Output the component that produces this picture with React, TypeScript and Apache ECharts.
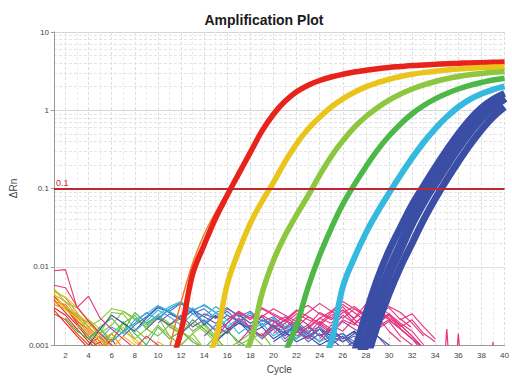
import React, { useEffect, useRef } from "react";
import * as echarts from "echarts";

// ---- data ----
const xTickLabels = [2, 4, 6, 8, 10, 12, 14, 16, 18, 20, 22, 24, 26, 28, 30, 32, 34, 36, 38, 40];
const yTickLabels = [0.001, 0.01, 0.1, 1, 10];
const threshold = 0.1;

// amplification curves: values from a start cycle
const redStart = 11;
const redCurve = [0.0005, 0.0015, 0.008, 0.019, 0.042, 0.082, 0.155, 0.29, 0.54, 0.89, 1.3, 1.72, 2.09, 2.4, 2.66, 2.88, 3.08, 3.24, 3.39, 3.52, 3.62, 3.72, 3.79, 3.86, 3.93, 3.98, 4.03, 4.06, 4.1, 4.13];
const orangeStart = 11;
const orangeCurve = [0.0009, 0.0035, 0.011, 0.026, 0.05, 0.09];
const yellowStart = 14;
const yellowCurve = [0.0006, 0.0012, 0.006, 0.016, 0.036, 0.068, 0.12, 0.219, 0.372, 0.575, 0.813, 1.1, 1.4, 1.7, 1.99, 2.25, 2.49, 2.7, 2.88, 3.03, 3.16, 3.27, 3.37, 3.44, 3.51, 3.56, 3.61];
const limeStart = 17;
const limeCurve = [0.0006, 0.0011, 0.0045, 0.012, 0.025, 0.046, 0.081, 0.148, 0.257, 0.407, 0.603, 0.832, 1.08, 1.35, 1.61, 1.87, 2.11, 2.33, 2.53, 2.7, 2.84, 2.95, 3.05, 3.13];
const greenStart = 21;
const greenCurve = [0.0008, 0.0018, 0.0055, 0.014, 0.031, 0.063, 0.112, 0.19, 0.309, 0.468, 0.668, 0.902, 1.15, 1.4, 1.64, 1.87, 2.08, 2.26, 2.43, 2.57];
const cyanStart = 24;
const cyanCurve = [0.0005, 0.0011, 0.0055, 0.013, 0.027, 0.05, 0.087, 0.148, 0.245, 0.389, 0.582, 0.822, 1.1, 1.38, 1.62, 1.84, 2.02];
const blueEarlyStart = 27;
const blueEarly = [0.0008, 0.0025, 0.007, 0.016, 0.032, 0.062, 0.108, 0.186, 0.31, 0.5, 0.76, 1.07, 1.37, 1.64];
const blueMidStart = 27;
const blueMid = [0.0005, 0.0011, 0.0035, 0.0085, 0.018, 0.038, 0.071, 0.123, 0.209, 0.347, 0.55, 0.822, 1.135, 1.46];
const blueLateStart = 28;
const blueLate = [0.0006, 0.0018, 0.0045, 0.01, 0.02, 0.04, 0.074, 0.13, 0.22, 0.36, 0.56, 0.82, 1.1];

// baseline noise traces (values from a start cycle)
const nR1 = [0.0042, 0.003, 0.0019, 0.0013, 0.0009, 0.0006];
const nR2 = [0.003, 0.0024, 0.0016, 0.0011, 0.0008, 0.0012, 0.0007];
const nR3 = [0.0038, 0.0026, 0.0018, 0.0012, 0.0009, 0.0007];
const nR4 = [0.0025, 0.0021, 0.0014, 0.001, 0.0013, 0.0008];
const nR5 = [0.0028, 0.0019, 0.0013, 0.0009, 0.0011, 0.0007];
const nO1 = [0.005, 0.004, 0.0026, 0.0017, 0.0012, 0.0008];
const nO2 = [0.0036, 0.0033, 0.0021, 0.0014, 0.001, 0.0007];
const nO3 = [0.0044, 0.0036, 0.0024, 0.0019, 0.0013, 0.0009, 0.0007];
const nO4 = [0.0033, 0.0029, 0.0023, 0.0015, 0.0011, 0.0014, 0.0009];
const nO5 = [0.0041, 0.0031, 0.002, 0.0016, 0.0012, 0.001, 0.0008];
const nY1 = [0.0046, 0.0028, 0.0022, 0.0016, 0.0012, 0.0009, 0.0013, 0.001, 0.0008, 0.0011, 0.0009, 0.0007];
const nY2 = [0.0048, 0.0041, 0.003, 0.0021, 0.0016, 0.0012, 0.0017, 0.0011, 0.0009];
const nY3 = [0.0035, 0.0031, 0.0025, 0.0019, 0.0014, 0.0011, 0.0015, 0.0012, 0.0009];
const nYG1 = [0.0052, 0.0035, 0.003, 0.002, 0.0014, 0.0026, 0.0025, 0.0016, 0.0012, 0.0018, 0.0013, 0.001, 0.0014, 0.0009];
const nYG2 = [0.003, 0.0024, 0.0017, 0.0021, 0.0029, 0.0027, 0.0022, 0.0018, 0.0024, 0.0019, 0.0015, 0.0012, 0.0009];
const nG1 = [0.0022, 0.0015, 0.0012, 0.0016, 0.0011, 0.002, 0.0014, 0.001, 0.0017, 0.0012, 0.0015, 0.0011, 0.0009, 0.0013, 0.0008];
const nG2 = [0.0018, 0.0013, 0.0009, 0.0014, 0.0019, 0.0012, 0.0016, 0.0023, 0.0013, 0.001, 0.0014, 0.0018, 0.0012, 0.0009, 0.0011, 0.0014, 0.001, 0.0008];
const nG3 = [0.0012, 0.0017, 0.0022, 0.0015, 0.0026, 0.0019, 0.0024, 0.0017, 0.0014, 0.0021, 0.0016, 0.0012, 0.0015, 0.0011, 0.0009];
const nG4 = [0.0014, 0.0011, 0.0019, 0.0024, 0.0016, 0.0013, 0.0018, 0.0022, 0.0015, 0.0019, 0.0013, 0.0016, 0.001, 0.0012, 0.0014, 0.0009];
const nG5 = [0.0016, 0.0021, 0.0014, 0.0018, 0.0027, 0.0021, 0.0017, 0.0023, 0.0018, 0.0014, 0.0019, 0.0015, 0.0011, 0.0008];
const nB1 = [0.001, 0.0016, 0.0024, 0.0019, 0.0015, 0.0022, 0.003, 0.0026, 0.0021, 0.0028, 0.0018, 0.0024, 0.0016, 0.002, 0.0014, 0.0017, 0.0012, 0.0015, 0.0011, 0.0013, 0.001, 0.0012, 0.0009, 0.0011, 0.0008];
const nB2 = [0.0013, 0.0018, 0.0014, 0.0021, 0.0016, 0.0012, 0.0017, 0.0013, 0.0019, 0.0014, 0.0011, 0.0016, 0.0012, 0.0015, 0.001, 0.0013, 0.0009];
const nB3 = [0.0013, 0.0018, 0.0023, 0.0031, 0.0027, 0.0034, 0.0025, 0.0029, 0.0022, 0.0027, 0.002, 0.0024, 0.0017, 0.0021, 0.0015, 0.0018, 0.0013, 0.0016, 0.0012, 0.0014, 0.001, 0.0012, 0.0009];
const nB4 = [0.0011, 0.0014, 0.0012, 0.0017, 0.0013, 0.0016, 0.0012, 0.0015, 0.0011, 0.0013, 0.001, 0.0008];
const nB5 = [0.0022, 0.0029, 0.0035, 0.0028, 0.0032, 0.0026, 0.003, 0.0023, 0.0027, 0.002, 0.0023, 0.0017, 0.002, 0.0015, 0.0017, 0.0013, 0.0014, 0.0011, 0.0012, 0.0009];
const nB6 = [0.0011, 0.0015, 0.0019, 0.0016, 0.0013, 0.0018, 0.0014, 0.0017, 0.0012, 0.0016, 0.0013, 0.0011, 0.0014, 0.0012, 0.0009];
const nC1 = [0.0012, 0.0017, 0.0014, 0.0021, 0.0025, 0.0032, 0.0027, 0.0022, 0.003, 0.0019, 0.0026, 0.0017, 0.0022, 0.0015, 0.0019, 0.0013, 0.0017, 0.0012, 0.0015, 0.0011, 0.0013];
const nC2 = [0.0015, 0.002, 0.0028, 0.0023, 0.0018, 0.0025, 0.002, 0.0016, 0.0021, 0.0014, 0.0018, 0.0012, 0.0016, 0.0011];
const nC3 = [0.0011, 0.0015, 0.0019, 0.0026, 0.0021, 0.0029, 0.0035, 0.0028, 0.0023, 0.0031, 0.0024, 0.002, 0.0026, 0.0018, 0.0022, 0.0016, 0.0019, 0.0013, 0.0016, 0.0011];
const nC4 = [0.0018, 0.0024, 0.0031, 0.0036, 0.0027, 0.0033, 0.0026, 0.0021, 0.0025, 0.0019, 0.0023, 0.0016, 0.0019, 0.0013, 0.0015, 0.0011];
const nP1 = [0.0016, 0.0022, 0.0018, 0.0024, 0.0017, 0.0021, 0.0015, 0.0019, 0.0026, 0.0016, 0.0013, 0.0018, 0.0012, 0.0016, 0.0011, 0.0014, 0.001, 0.0013, 0.0009];
const nP2 = [0.0019, 0.0025, 0.0021, 0.0028, 0.0023, 0.0019, 0.0024, 0.002, 0.0016, 0.0021, 0.0017, 0.0014, 0.0018, 0.0013, 0.0016, 0.0011, 0.0013, 0.001, 0.0012, 0.0009];
const nP3 = [0.0014, 0.0019, 0.0025, 0.0022, 0.0029, 0.0024, 0.0019, 0.0023, 0.0017, 0.0021, 0.0015, 0.0018, 0.0013, 0.0016, 0.0011, 0.0013, 0.0009];
const nPk1 = [0.0012, 0.0019, 0.0026, 0.0021, 0.0029, 0.0024, 0.002, 0.0027, 0.0032, 0.0025, 0.0021, 0.0028, 0.0019, 0.0024, 0.0016, 0.002, 0.0013, 0.001];
const nPk2 = [0.0015, 0.0022, 0.0017, 0.0024, 0.002, 0.0016, 0.0023, 0.0018, 0.0026, 0.0022, 0.0031, 0.0021, 0.0017, 0.0023, 0.0015, 0.0011];
const nPk3 = [0.0011, 0.0016, 0.0013, 0.0019, 0.0023, 0.0018, 0.0014, 0.002, 0.0016, 0.0024, 0.0019, 0.0015, 0.0021, 0.0025, 0.0018, 0.0013, 0.0009];
const nPk4 = [0.0089, 0.0092, 0.003, 0.0042, 0.0022, 0.0016, 0.0012, 0.0009, 0.0013, 0.001, 0.0008];
const nPk5 = [0.0058, 0.0054, 0.0031, 0.002, 0.0014, 0.001, 0.0007];
const nPk6 = [0.0012, 0.0018, 0.0015, 0.0022, 0.0028, 0.0019, 0.0024, 0.0016, 0.0012, 0.0008];
const nPk7 = [0.0017, 0.0023, 0.0029, 0.0024, 0.002, 0.0026, 0.0034, 0.0027, 0.0022, 0.0029, 0.0023, 0.0019, 0.0025, 0.0017, 0.0021, 0.0014, 0.0011];
const nPk8 = [0.0014, 0.0019, 0.0025, 0.0021, 0.0018, 0.0024, 0.0028, 0.0022, 0.0033, 0.0026, 0.003, 0.0021, 0.0025, 0.0017, 0.0012];
const nPk9 = [0.0013, 0.0017, 0.0022, 0.0027, 0.0036, 0.0029, 0.0024, 0.0031, 0.0025, 0.0019, 0.0015, 0.001];
const nPk10 = [0.0011, 0.0015, 0.0012, 0.0018, 0.0014, 0.002, 0.0016, 0.0013, 0.0017, 0.0021, 0.0016, 0.0012, 0.0009];
const nPk11 = [0.0021, 0.0027, 0.0022, 0.003, 0.0025, 0.0021, 0.0028, 0.0023, 0.0019, 0.0026, 0.0033, 0.0026, 0.002, 0.0027, 0.0021, 0.0016, 0.0012];
const nPk12 = [0.0012, 0.0016, 0.0021, 0.0017, 0.0023, 0.0019, 0.0015, 0.0021, 0.0018, 0.0027, 0.0038, 0.0031, 0.0026, 0.0019, 0.0013];
const nPk13 = [0.0016, 0.0022, 0.0019, 0.0026, 0.0031, 0.0024, 0.0029, 0.0022, 0.0018, 0.0013, 0.0009];
const pinkSegment = [[30.9, 0.0022], [31.9, 0.0017]];
const spike35 = [[34.8, 0.0006], [35, 0.0016], [35.2, 0.0006]];
const spike36 = [[35.8, 0.0006], [36, 0.0014], [36.2, 0.0006]];
const spike39 = [[38.9, 0.0006], [39, 0.0011], [39.1, 0.0006]];

const RED = "#e8231c";
const ORANGE = "#f27b22";
const YELLOW = "#e9c41a";
const LIME = "#8dc63f";
const GREEN = "#4db848";
const CYAN = "#35b9df";
const BLUE = "#3b4ea5";
const PURPLE = "#6d5bb3";
const PINK = "#e8327c";

function toPoints(start: number, vals: number[]) {
  return vals.map((v, i) => [start + i, v]);
}

export default function App() {
  const ref = useRef<HTMLDivElement>(null);
  useEffect(() => {
    if (!ref.current) return;
    document.body.style.margin = "0";
    const chart = echarts.init(ref.current, undefined, { renderer: "svg" });

    const noise: [number, number[], string][] = [
      [1, nR1, RED], [1, nR2, RED], [1, nR3, RED], [1, nR4, "#f04a1e"], [1, nR5, RED],
      [1, nO1, ORANGE], [1, nO2, ORANGE], [1, nO3, "#f59a25"], [1, nO4, ORANGE], [1, nO5, "#f0651e"],
      [1, nY1, YELLOW], [1, nY2, YELLOW], [1, nY3, "#f2b41c"],
      [1, nYG1, LIME], [2, nYG2, LIME], [2, nG1, GREEN], [3, nG2, LIME], [4, nG3, GREEN], [5, nG4, "#6cc04a"], [3, nG5, LIME],
      [4, nB1, BLUE], [14, nB2, PURPLE], [7, nB3, "#4a6cc0"], [20, nB4, BLUE], [10, nB5, "#4f79c8"], [15, nB6, BLUE],
      [5, nC1, CYAN], [8, nC2, CYAN], [6, nC3, "#2aa7d8"], [9, nC4, CYAN],
      [9, nP1, PURPLE], [10, nP2, "#5a64c0"], [12, nP3, PURPLE],
      [15, nPk1, PINK], [16, nPk2, PINK], [17, nPk3, "#d9368f"], [1, nPk4, PINK], [1, nPk5, "#ee3b5a"],
      [24, nPk6, PINK], [18, nPk7, "#e0358a"], [20, nPk8, PINK], [22, nPk9, "#e23a7a"], [21, nPk10, "#c0389a"],
      [16, nPk11, PINK], [19, nPk12, "#e0357f"], [23, nPk13, PINK],
    ];
    const series: any[] = [];
    series.push({
      type: "line", data: [], silent: true, z: 0,
      markLine: {
        silent: true, symbol: "none", animation: false, z: 0,
        label: { show: false },
        lineStyle: { color: "#e4e4e4", type: [3, 2], width: 1 },
        data: (() => {
          const minorVals: number[] = [];
          [0.001, 0.01, 0.1, 1].forEach((d) => {
            for (let k = 2; k <= 9; k++) minorVals.push(+(d * k).toPrecision(3));
          });
          return minorVals.map((v) => ({ yAxis: v }));
        })(),
      },
    });
    noise.forEach(([s, vals, c]) => {
      series.push({ type: "line", data: toPoints(s, vals), symbol: "none", clip: true, silent: true, z: 2,
        lineStyle: { color: c, width: 1.1 } });
    });
    [pinkSegment, spike35, spike36, spike39].forEach((d) => {
      series.push({ type: "line", data: d, symbol: "none", clip: true, silent: true, z: 2,
        lineStyle: { color: PINK, width: 1.2 } });
    });
    const curves: [number, number[], string, number][] = [
      [orangeStart, orangeCurve, ORANGE, 1.5],
      [redStart, redCurve, RED, 5.5],
      [yellowStart, yellowCurve, YELLOW, 5.5],
      [limeStart, limeCurve, LIME, 5.5],
      [greenStart, greenCurve, GREEN, 5.5],
      [cyanStart, cyanCurve, CYAN, 6],
      [blueEarlyStart, blueEarly, BLUE, 7],
      [blueLateStart, blueLate, BLUE, 7],
      [blueMidStart, blueMid, BLUE, 10],
    ];
    curves.forEach(([s, vals, c, w]) => {
      series.push({ type: "line", data: toPoints(s, vals), symbol: "none", smooth: 0.4, clip: true, silent: true, z: 3,
        lineStyle: { color: c, width: w } });
    });
    series.push({
      type: "line", data: [], silent: true, z: 10,
      markLine: {
        silent: true, symbol: "none", animation: false, z: 10,
        lineStyle: { color: "#c1272d", type: "solid", width: 2 },
        label: { show: true, position: "insideStartTop", formatter: "0.1", color: "#d2232a", fontSize: 9, distance: [2, 1] },
        data: [{ yAxis: threshold }],
      },
    });

    chart.setOption({
      animation: false,
      title: {
        text: "Amplification Plot", left: 259, top: 8, textAlign: "center",
        textStyle: { fontSize: 14, fontWeight: "bold", color: "#1a1a1a", fontFamily: "Liberation Sans" },
      },
      grid: { left: 50, right: 5, top: 32, bottom: 33 },
      xAxis: {
        type: "value", min: 1, max: 40, interval: 1,
        name: "Cycle", nameLocation: "middle", nameGap: 19,
        nameTextStyle: { fontSize: 10, color: "#444", fontFamily: "Liberation Sans" },
        axisLine: { show: true, lineStyle: { color: "#999" } },
        axisTick: { show: false },
        axisLabel: {
          fontSize: 8, color: "#444", margin: 6, fontFamily: "Liberation Sans",
          formatter: (v: number) => (xTickLabels.includes(v) ? String(v) : ""),
        },
        splitLine: { show: true, lineStyle: { color: ["#ececec", "#dedede"], type: [3, 2] } },
      },
      yAxis: {
        type: "log", logBase: 10, min: 0.001, max: 10,
        name: "ΔRn", nameLocation: "middle", nameGap: 27,
        nameTextStyle: { fontSize: 10, color: "#444", fontFamily: "Liberation Sans" },
        axisLine: { show: true, lineStyle: { color: "#999" } },
        axisTick: { show: true, length: 3, lineStyle: { color: "#999" } },
        axisLabel: {
          fontSize: 8, color: "#444", margin: 5, fontFamily: "Liberation Sans",
          formatter: (v: number) => {
            const m = yTickLabels.find((t) => Math.abs(t - v) / t < 1e-6);
            return m === undefined ? "" : String(m);
          },
        },
        splitLine: { show: true, lineStyle: { color: "#d6d6d6" } },
      },
      series,
    });
    return () => chart.dispose();
  }, []);
  return <div ref={ref} style={{ width: 512, height: 379 }} />;
}
